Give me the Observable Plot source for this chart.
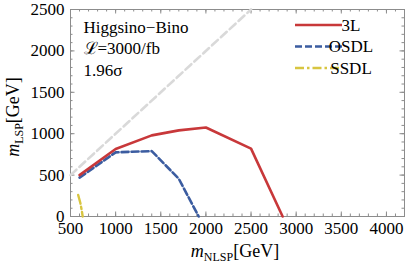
<!DOCTYPE html>
<html>
<head>
<meta charset="utf-8">
<script src="https://cdn.jsdelivr.net/npm/d3@7"></script>
<script src="https://cdn.jsdelivr.net/npm/@observablehq/plot@0.6"></script>
<style>
  html, body { margin: 0; padding: 0; background: #fff; font-family: "Liberation Serif"; }
  #chart svg { display: block; }
  #chart text, #chart tspan { font-family: "Liberation Serif" !important; }
</style>
</head>
<body>
<div id="chart"></div>
<script>
// ---- data ----
const series = ["3L", "OSDL", "SSDL"];
const x3L   = [600, 1000, 1400, 1700, 2000, 2500, 2850];
const y3L   = [500, 815, 980, 1040, 1075, 820, 0];
const xOSDL = [600, 1000, 1400, 1700, 1920];
const yOSDL = [470, 775, 790, 455, 0];
const xSSDL = [585, 610, 625, 635];
const ySSDL = [260, 160, 70, 0];
const xDiag = [500, 2500];
const yDiag = [500, 2500];
const xTicks = [500, 1000, 1500, 2000, 2500, 3000, 3500, 4000];
const yTicks = [0, 500, 1000, 1500, 2000, 2500];
const annotation = ["Higgsino\u2212Bino", "\u2112=3000/fb", "1.96\u03c3"];

const colors = {"3L": "#c8383a", "OSDL": "#3b5ca0", "SSDL": "#d8c540"};
const dashes = {"3L": null, "OSDL": "7,3", "SSDL": "9,3,2.5,3"};

const toRows = (xs, ys) => xs.map((x, i) => ({x, y: ys[i]}));
const d3L = toRows(x3L, y3L), dOS = toRows(xOSDL, yOSDL), dSS = toRows(xSSDL, ySSDL), dDiag = toRows(xDiag, yDiag);

const xMinor = d3.range(500, 4201, 100);
const yMinor = d3.range(0, 2501, 100);

const FONT = "Liberation Serif";
const W = 407, H = 267, mL = 70, mR = 3, mT = 9, mB = 51;
const fh = H - mT - mB, fw = W - mL - mR;
const tickC = "#8c8c8c";

const plot = Plot.plot({
  width: W, height: H,
  marginLeft: mL, marginRight: mR, marginTop: mT, marginBottom: mB,
  style: "font-family: 'Liberation Serif'; font-size: 17px; color: #000; background: #fff;",
  x: {domain: [500, 4200]},
  y: {domain: [0, 2500]},
  marks: [
    // minor ticks
    Plot.ruleX(xMinor, {x: d => d, insetTop: fh - 2.5, stroke: tickC}),
    Plot.ruleX(xMinor, {x: d => d, insetBottom: fh - 2.5, stroke: tickC}),
    Plot.ruleY(yMinor, {y: d => d, insetRight: fw - 2.5, stroke: tickC}),
    Plot.ruleY(yMinor, {y: d => d, insetLeft: fw - 2.5, stroke: tickC}),
    // major ticks
    Plot.ruleX(xTicks, {x: d => d, insetTop: fh - 4.5, stroke: tickC}),
    Plot.ruleX(xTicks, {x: d => d, insetBottom: fh - 4.5, stroke: tickC}),
    Plot.ruleY(yTicks, {y: d => d, insetRight: fw - 4.5, stroke: tickC}),
    Plot.ruleY(yTicks, {y: d => d, insetLeft: fw - 4.5, stroke: tickC}),
    Plot.frame({stroke: tickC, strokeWidth: 1}),
    Plot.axisX(xTicks, {tickSize: 0, tickPadding: 5, label: null, fill: "#000", tickFormat: d => String(d), fontSize: 17}),
    Plot.axisY(yTicks, {tickSize: 0, tickPadding: 6, label: null, fill: "#000", tickFormat: d => String(d), fontSize: 17}),
    // diagonal
    Plot.line(dDiag, {x: "x", y: "y", stroke: "#d9d9d9", strokeWidth: 2.6, strokeDasharray: "8,4"}),
    // series
    Plot.line(dSS, {x: "x", y: "y", stroke: colors.SSDL, strokeWidth: 2.4, strokeDasharray: dashes.SSDL}),
    Plot.line(dOS, {x: "x", y: "y", stroke: colors.OSDL, strokeWidth: 2.6, strokeDasharray: dashes.OSDL}),
    Plot.line(d3L, {x: "x", y: "y", stroke: colors["3L"], strokeWidth: 2.6}),
    // annotation
    Plot.text([annotation.join("\n")], {frameAnchor: "top-left", dx: 13, dy: 8, textAnchor: "start", lineAnchor: "top", lineHeight: 1.26, fontSize: 17, fill: "#000"})
  ]
});

document.getElementById("chart").appendChild(plot);

const svg = d3.select(plot);
// legend
const leg = svg.append("g");
series.forEach((s, i) => {
  const y = 25 + i * 21.5;
  leg.append("line").attr("x1", 295).attr("x2", 342).attr("y1", y).attr("y2", y)
    .attr("stroke", colors[s]).attr("stroke-width", 2.6)
    .attr("stroke-dasharray", dashes[s]);
  leg.append("text").attr("x", 351).attr("y", y + 5.5)
    .attr("font-size", 17).attr("fill", "#000")
    .text(s);
});

// axis labels
function axisLabel(g, sub) {
  const t = g.append("text").attr("font-size", 18).attr("fill", "#000").attr("text-anchor", "middle");
  t.append("tspan").attr("font-style", "italic").text("m");
  t.append("tspan").attr("font-size", 12).attr("dy", 4).text(sub);
  t.append("tspan").attr("dy", -4).text("[GeV]");
  return t;
}
axisLabel(svg.append("g").attr("transform", `translate(${mL + fw / 2 - 2},257)`), "NLSP");
axisLabel(svg.append("g").attr("transform", `translate(19,117) rotate(-90)`), "LSP");

// force the serif face on every text node (attribute + inline style)
function applyFont() {
  svg.attr("font-family", FONT);
  svg.selectAll("g").attr("font-family", FONT);
  svg.selectAll("text, tspan").attr("font-family", FONT).style("font-family", FONT, "important");
}
applyFont();
</script>
</body>
</html>
